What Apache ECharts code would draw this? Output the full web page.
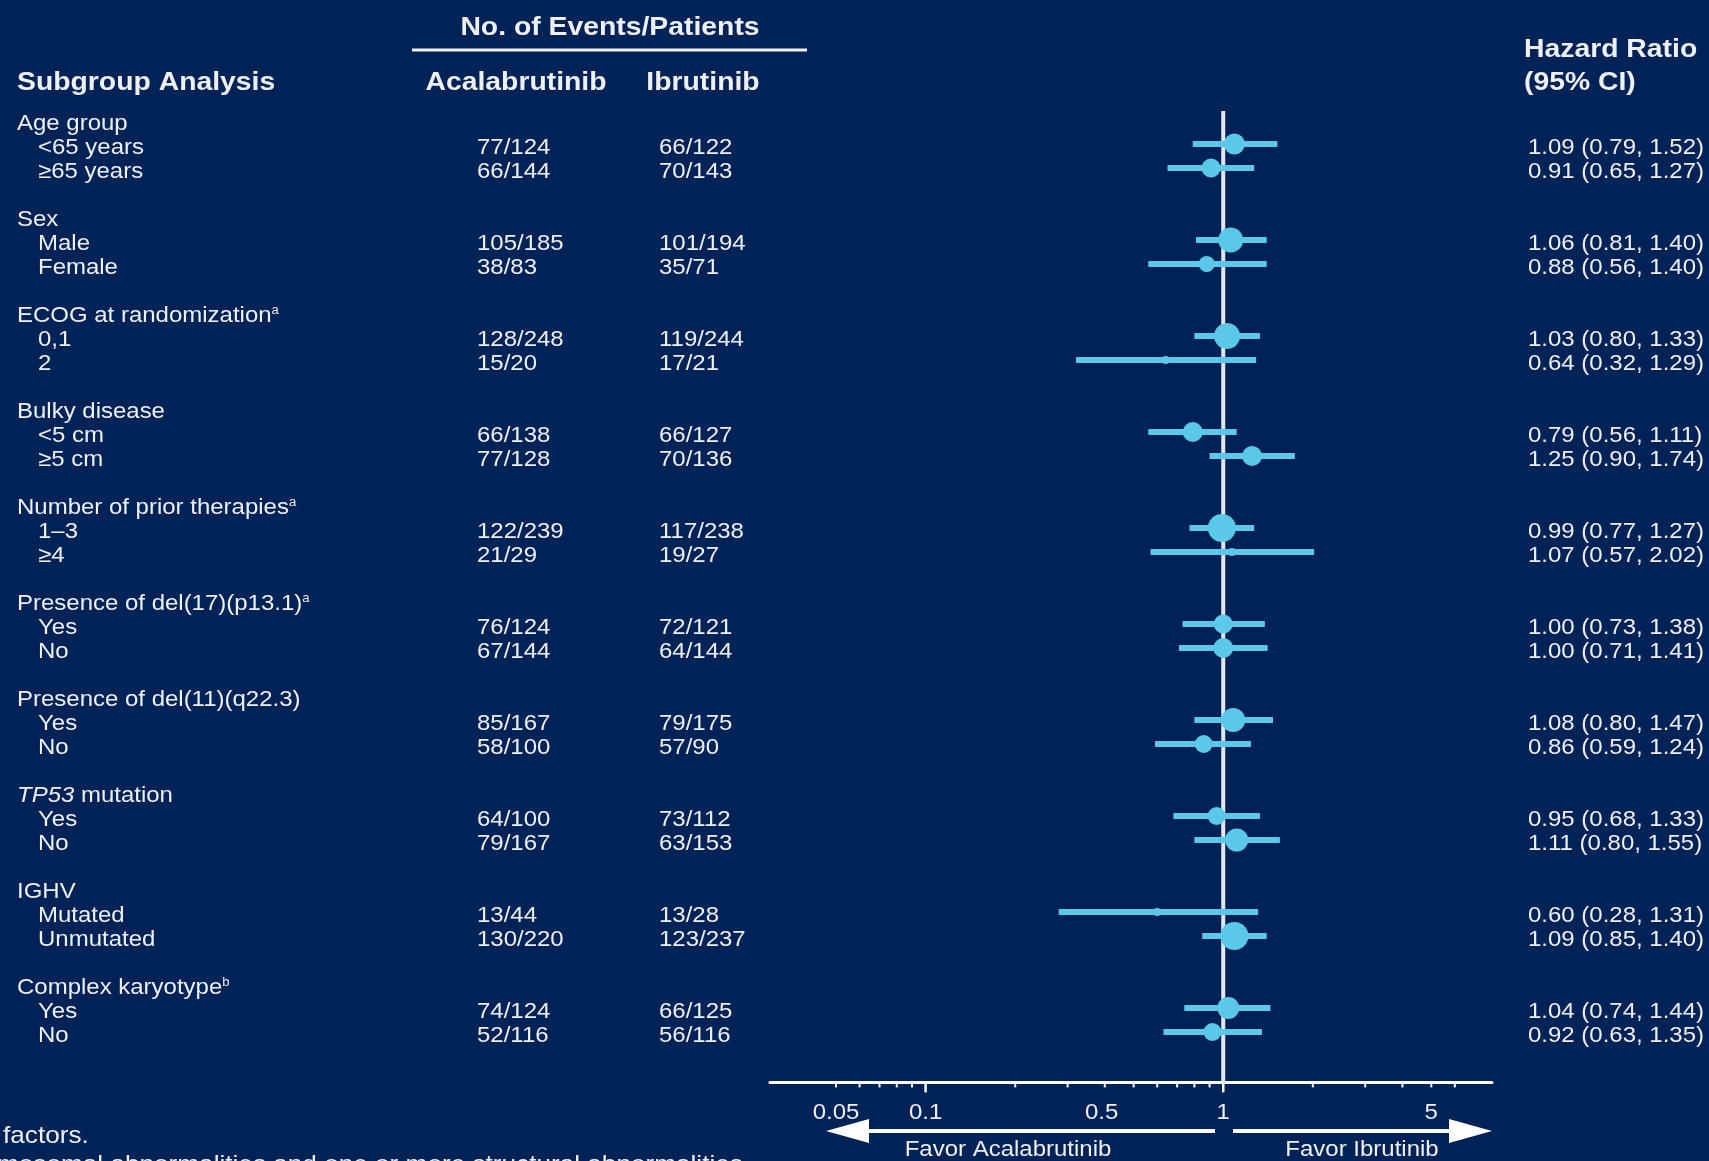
<!DOCTYPE html>
<html>
<head>
<meta charset="utf-8">
<script src="https://cdn.jsdelivr.net/npm/echarts@6/dist/echarts.min.js"></script>
<style>
html,body{margin:0;padding:0;background:#002357;}
#c{width:1709px;height:1161px;}
</style>
</head>
<body>
<div id="c"></div>
<script>
// ---------------- DATA ----------------
const groupNames = ['Age group', 'Sex', 'ECOG at randomization{sup|a}', 'Bulky disease',
  'Number of prior therapies{sup|a}', 'Presence of del(17)(p13.1){sup|a}', 'Presence of del(11)(q22.3)',
  '{it|TP53} mutation', 'IGHV', 'Complex karyotype{sup|b}'];
const subgroupLabels = [['<65 years', '≥65 years'], ['Male', 'Female'], ['0,1', '2'], ['<5 cm', '≥5 cm'],
  ['1–3', '≥4'], ['Yes', 'No'], ['Yes', 'No'], ['Yes', 'No'], ['Mutated', 'Unmutated'], ['Yes', 'No']];
const acalaEvents = [['77/124', '66/144'], ['105/185', '38/83'], ['128/248', '15/20'], ['66/138', '77/128'],
  ['122/239', '21/29'], ['76/124', '67/144'], ['85/167', '58/100'], ['64/100', '79/167'], ['13/44', '130/220'], ['74/124', '52/116']];
const ibruEvents = [['66/122', '70/143'], ['101/194', '35/71'], ['119/244', '17/21'], ['66/127', '70/136'],
  ['117/238', '19/27'], ['72/121', '64/144'], ['79/175', '57/90'], ['73/112', '63/153'], ['13/28', '123/237'], ['66/125', '56/116']];
const hazardRatio = [[1.09, 0.91], [1.06, 0.88], [1.03, 0.64], [0.79, 1.25], [0.99, 1.07], [1.00, 1.00], [1.08, 0.86], [0.95, 1.11], [0.60, 1.09], [1.04, 0.92]];
const ciLower = [[0.79, 0.65], [0.81, 0.56], [0.80, 0.32], [0.56, 0.90], [0.77, 0.57], [0.73, 0.71], [0.80, 0.59], [0.68, 0.80], [0.28, 0.85], [0.74, 0.63]];
const ciUpper = [[1.52, 1.27], [1.40, 1.40], [1.33, 1.29], [1.11, 1.74], [1.27, 2.02], [1.38, 1.41], [1.47, 1.24], [1.33, 1.55], [1.31, 1.40], [1.44, 1.35]];
const markerWeight = [[21, 19], [25, 16], [26, 8], [20, 20], [28, 8], [19, 20], [24, 18], [18, 23], [8, 28], [22, 18]];
const tickLabelValues = [0.05, 0.1, 0.5, 1, 5];
const tickLabelText = ['0.05', '0.1', '0.5', '1', '5'];
const minorTickValues = [0.05, 0.06, 0.07, 0.08, 0.09, 0.2, 0.3, 0.4, 0.5, 0.6, 0.7, 0.8, 0.9, 2, 3, 4, 5, 6];
const majorTickValues = [0.1, 1];
const referenceValue = [1];

// ---------------- STYLE / LAYOUT ----------------
const BG = '#002357';
const TEXT = '#eef0f4';
const CYAN = '#5bc8e7';
const FONT = '"Liberation Sans", Arial, sans-serif';
const SX = 1.09;
const Y_MIN = -1, Y_MAX = 40.1;
const COL_GROUP = 17, COL_SUB = 38, COL_ACALA = 477, COL_IBRU = 659, COL_HR = 1528;
const TEXT_DY = 4;
const LABEL_NUDGE = { '0.5': -32 };
const HEAD = { fontWeight: 'bold', fontSize: 26 };

const RICH = {
  sup: { fontSize: 12, fontFamily: FONT, fill: TEXT, verticalAlign: 'top' },
  it: { fontSize: 22, fontFamily: FONT, fontStyle: 'italic', fill: TEXT }
};

function txt(x, y, text, extra) {
  return {
    type: 'text', x: x, y: y, scaleX: SX,
    style: Object.assign({
      text: text, fill: TEXT, fontSize: 22, fontFamily: FONT,
      align: 'left', verticalAlign: 'middle', textAlign: 'left', textVerticalAlign: 'middle',
      rich: RICH
    }, extra || {})
  };
}
function centered(extra) {
  return Object.assign({ align: 'center', textAlign: 'center' }, extra || {});
}

// rows
const rows = [];
groupNames.forEach(function (name, g) {
  rows.push({ k: 4 * g, g: g, i: -1 });
  subgroupLabels[g].forEach(function (s, i) { rows.push({ k: 4 * g + 1 + i, g: g, i: i }); });
});
const subRows = rows.filter(function (r) { return r.i >= 0; });

const chart = echarts.init(document.getElementById('c'));

const option = {
  backgroundColor: BG,
  animation: false,
  grid: { left: 770, width: 722, top: 96, height: 986.4 },
  xAxis: {
    type: 'log', logBase: 10, min: 0.03, max: 8,
    axisLine: { show: true, onZero: false, lineStyle: { color: '#ffffff', width: 3 } },
    axisTick: { show: false }, axisLabel: { show: false }, splitLine: { show: false }
  },
  yAxis: { type: 'value', inverse: true, min: Y_MIN, max: Y_MAX, show: false },
  series: [
    // reference line at HR = 1
    {
      type: 'custom', clip: false, z: 2,
      data: referenceValue.map(function (v) { return [v, -0.375]; }),
      encode: { x: 0, y: 1 },
      renderItem: function (params, api) {
        const p1 = api.coord([api.value(0), api.value(1)]);
        const p2 = api.coord([api.value(0), Y_MAX]);
        return { type: 'line', shape: { x1: p1[0], y1: p1[1], x2: p2[0], y2: p2[1] },
          style: { stroke: '#e6e7ee', lineWidth: 4 } };
      }
    },
    // confidence intervals
    {
      type: 'custom', clip: false, z: 3,
      data: subRows.map(function (r) { return [ciLower[r.g][r.i], ciUpper[r.g][r.i], r.k]; }),
      encode: { x: [0, 1], y: 2 },
      renderItem: function (params, api) {
        const p1 = api.coord([api.value(0), api.value(2)]);
        const p2 = api.coord([api.value(1), api.value(2)]);
        return { type: 'line', shape: { x1: p1[0], y1: p1[1], x2: p2[0], y2: p2[1] },
          style: { stroke: CYAN, lineWidth: 6, lineCap: 'butt' } };
      }
    },
    // point estimates
    {
      type: 'scatter', z: 4, symbol: 'circle',
      data: subRows.map(function (r) {
        return { value: [hazardRatio[r.g][r.i], r.k], symbolSize: markerWeight[r.g][r.i] };
      }),
      itemStyle: { color: CYAN, opacity: 1 }
    },
    // minor ticks
    {
      type: 'custom', clip: false, z: 5,
      data: minorTickValues.map(function (v) { return [v, Y_MAX]; }),
      encode: { x: 0, y: 1 },
      renderItem: function (params, api) {
        const p = api.coord([api.value(0), Y_MAX]);
        return { type: 'line', shape: { x1: p[0], y1: p[1], x2: p[0], y2: p[1] + 5 },
          style: { stroke: '#ffffff', lineWidth: 2 } };
      }
    },
    // major ticks
    {
      type: 'custom', clip: false, z: 5,
      data: majorTickValues.map(function (v) { return [v, Y_MAX]; }),
      encode: { x: 0, y: 1 },
      renderItem: function (params, api) {
        const p = api.coord([api.value(0), Y_MAX]);
        return { type: 'line', shape: { x1: p[0], y1: p[1], x2: p[0], y2: p[1] + 10 },
          style: { stroke: '#ffffff', lineWidth: 2.5 } };
      }
    },
    // tick labels
    {
      type: 'custom', clip: false, z: 5,
      data: tickLabelValues.map(function (v) { return [v, Y_MAX]; }),
      encode: { x: 0, y: 1 },
      renderItem: function (params, api) {
        const p = api.coord([api.value(0), Y_MAX]);
        const t = tickLabelText[params.dataIndex];
        const dx = LABEL_NUDGE[t] || 0;
        return txt(p[0] + dx, p[1] + 31, t, centered());
      }
    },
    // table text
    {
      type: 'custom', clip: false, z: 5,
      data: rows.map(function (r) { return [1, r.k]; }),
      encode: { x: 0, y: 1 },
      renderItem: function (params, api) {
        const r = rows[params.dataIndex];
        const y = api.coord([1, r.k])[1] + TEXT_DY;
        if (r.i < 0) {
          return { type: 'group', children: [txt(COL_GROUP, y, groupNames[r.g])] };
        }
        const hr = hazardRatio[r.g][r.i], lo = ciLower[r.g][r.i], hi = ciUpper[r.g][r.i];
        return {
          type: 'group', children: [
            txt(COL_SUB, y, subgroupLabels[r.g][r.i]),
            txt(COL_ACALA, y, acalaEvents[r.g][r.i]),
            txt(COL_IBRU, y, ibruEvents[r.g][r.i]),
            txt(COL_HR, y, hr.toFixed(2) + ' (' + lo.toFixed(2) + ', ' + hi.toFixed(2) + ')')
          ]
        };
      }
    }
  ],
  graphic: [
    txt(610, 28, 'No. of Events/Patients', centered(HEAD)),
    { type: 'line', shape: { x1: 412, y1: 50, x2: 807, y2: 50 }, style: { stroke: TEXT, lineWidth: 3 } },
    txt(17, 83, 'Subgroup Analysis', HEAD),
    txt(516, 83, 'Acalabrutinib', centered(HEAD)),
    txt(703, 83, 'Ibrutinib', centered(HEAD)),
    txt(1524, 50, 'Hazard Ratio', HEAD),
    txt(1524, 83, '(95% CI)', HEAD),
    // arrows
    { type: 'line', shape: { x1: 866, y1: 1131, x2: 1215, y2: 1131 }, style: { stroke: '#ffffff', lineWidth: 4 } },
    { type: 'polygon', shape: { points: [[826, 1131], [869, 1119], [869, 1143]] }, style: { fill: '#ffffff' } },
    { type: 'line', shape: { x1: 1233, y1: 1131, x2: 1452, y2: 1131 }, style: { stroke: '#ffffff', lineWidth: 4 } },
    { type: 'polygon', shape: { points: [[1492, 1131], [1449, 1119], [1449, 1143]] }, style: { fill: '#ffffff' } },
    txt(1008, 1150, 'Favor Acalabrutinib', centered()),
    txt(1362, 1150, 'Favor Ibrutinib', centered()),
    // footnotes (cut by the frame)
    txt(3, 1136, 'factors.', { fontSize: 24 }),
    txt(-3, 1165, 'mosomal abnormalities and one or more structural abnormalities', { fontSize: 24 })
  ]
};
chart.setOption(option);
</script>
</body>
</html>
